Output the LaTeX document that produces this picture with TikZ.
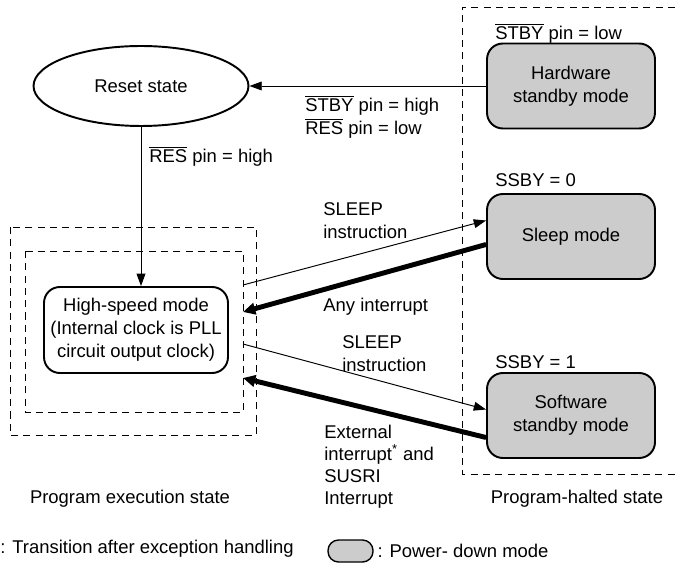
\documentclass[tikz,border=0pt]{standalone}
\usepackage{fontspec}
\setmainfont{Liberation Sans}
\usetikzlibrary{arrows.meta, positioning, calc, shapes.geometric}
\definecolor{PdGray}{HTML}{CCCCCC}
\newcommand{\ovl}[1]{$\overline{\mbox{#1}}$}

\begin{document}
\begin{tikzpicture}[x=0.02cm, y=-0.02cm, >={Triangle[length=7pt, width=5pt]},
  font=\fontsize{10.5}{13}\selectfont,
  every node/.style={inner sep=0pt},
  pdbox/.style={draw, line width=1.1pt, rounded corners=9pt, fill=PdGray,
                minimum width=3.36cm, minimum height=1.7cm, align=center},
  hsbox/.style={draw, line width=1.1pt, rounded corners=9pt,
                minimum width=3.68cm, minimum height=1.72cm, align=center},
  region/.style={dashed, line width=0.5pt, dash pattern=on 4pt off 3pt},
  trans/.style={->, line width=0.55pt},
  excp/.style={->, line width=2.8pt, >={Triangle[length=7pt, width=6.5pt]}},
  lbl/.style={anchor=north west, align=left}]
  \useasboundingbox (0,0) rectangle (675,563);
  % state regions
  \draw[region] (10,227) rectangle (256,435);
  \draw[region] (25,251) rectangle (243,412);
  \draw[region] (675,7) -- (462,7) -- (462,474) -- (675,474);
  % states
  \node[ellipse, draw, line width=1.1pt, minimum width=4.3cm, minimum height=1.6cm]
    (reset) at (141,86) {Reset state};
  \node[hsbox] (hsm) at (136,330) {High-speed mode\\(Internal clock is PLL\\circuit output clock)};
  \node[pdbox] (hw) at (571,86) {Hardware\\standby mode};
  \node[pdbox] (sleep) at (571,236.5) {Sleep mode};
  \node[pdbox] (sw) at (571,415.5) {Software\\standby mode};
  % conditions
  \node[lbl] (hwcond) at (495,23) {\ovl{STBY} pin = low};
  \node[lbl] (ssby0) at (495,173) {SSBY = 0};
  \node[lbl] (ssby1) at (495,355) {SSBY = 1};
  % transitions
  \coordinate (slpout) at (243,285);
  \coordinate (anyin) at (243,312);
  \coordinate (swout) at (243,344);
  \coordinate (extin) at (243,378);
  \draw[trans] (hw.west) -- (reset.east);
  \draw[trans] (reset.south) -- (reset.south |- hsm.north);
  \draw[trans] (slpout) -- ($(sleep.west)+(0,-16)$);
  \draw[excp] ($(sleep.west)+(0,8)$) -- (anyin);
  \draw[trans] (swout) -- ($(sw.west)+(0,-6)$);
  \draw[excp] ($(sw.west)+(0,22)$) -- (extin);
  \node[lbl] (hwlbl) at (305,95) {\ovl{STBY} pin = high\\\ovl{RES} pin = low};
  \node[lbl] (reslbl) at (149,146) {\ovl{RES} pin = high};
  \node[lbl] (slplbl) at (323,202) {SLEEP\\instruction};
  \node[lbl] (anylbl) at (323,298) {Any interrupt};
  \node[lbl] (swlbl) at (342,335) {SLEEP\\instruction};
  \node[lbl, font=\fontsize{10.5}{12.4}\selectfont] (extlbl) at (324,425)
    {External\\interrupt\textsuperscript{*} and\\SUSRI\\Interrupt};
  % region names
  \node[anchor=north] (exec) at (130,490) {Program execution state};
  \node[anchor=north] (halt) at (577,490) {Program-halted state};
  % legend
  \node[anchor=north west] (lgtrans) at (0,540) {: Transition after exception handling};
  \node[draw, line width=0.8pt, rounded corners=6pt, fill=PdGray,
        minimum width=0.9cm, minimum height=0.44cm] (lgbox) at (350.5,551) {};
  \node[anchor=west] (lgpd) at ([xshift=2pt]lgbox.east) {: Power- down mode};
\end{tikzpicture}
\end{document}
